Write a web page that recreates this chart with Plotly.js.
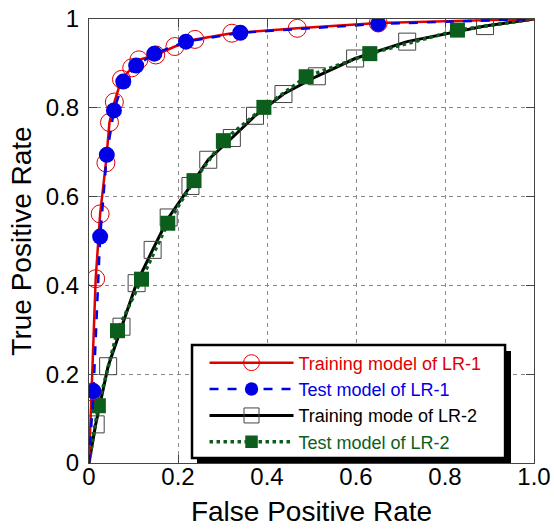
<!DOCTYPE html>
<html>
<head>
<meta charset="utf-8">
<script src="https://cdn.plot.ly/plotly-3.0.1.min.js"></script>
<style>html,body{margin:0;padding:0;background:#fff;}#chart{width:554px;height:532px;}</style>
</head>
<body>
<div id="chart"></div>
<script>
// ---- data ----
var seriesNames = ['Training model of LR-1', 'Test model of LR-1', 'Training mode of LR-2', 'Test model of LR-2'];

var lr1TrainFPR = [0, 0.006, 0.015, 0.025, 0.038, 0.046, 0.057, 0.073, 0.096, 0.112, 0.150, 0.193, 0.238, 0.321, 0.468, 0.650, 1];
var lr1TrainTPR = [0, 0.160, 0.415, 0.561, 0.676, 0.767, 0.813, 0.864, 0.890, 0.908, 0.919, 0.938, 0.954, 0.968, 0.979, 0.991, 1];

var lr1TestFPR = [0, 0.010, 0.025, 0.040, 0.056, 0.077, 0.106, 0.147, 0.218, 0.340, 0.650, 1];
var lr1TestTPR = [0, 0.162, 0.510, 0.694, 0.794, 0.859, 0.895, 0.922, 0.949, 0.969, 0.989, 1];

var lr2TrainFPR = [0, 0.015, 0.043, 0.073, 0.107, 0.143, 0.179, 0.228, 0.268, 0.321, 0.373, 0.437, 0.512, 0.598, 0.715, 0.890, 1];
var lr2TrainTPR = [0, 0.087, 0.218, 0.307, 0.405, 0.480, 0.553, 0.624, 0.683, 0.732, 0.782, 0.831, 0.871, 0.911, 0.949, 0.984, 1];

var lr2TestFPR = [0, 0.021, 0.064, 0.118, 0.177, 0.236, 0.302, 0.393, 0.488, 0.631, 0.828, 1];
var lr2TestTPR = [0, 0.129, 0.298, 0.414, 0.540, 0.636, 0.726, 0.801, 0.870, 0.922, 0.975, 1];

var tickVals = [0, 0.2, 0.4, 0.6, 0.8, 1];
var xTickText = ['0', '0.2', '0.4', '0.6', '0.8', '1.0'];
var yTickText = ['0', '0.2', '0.4', '0.6', '0.8', '1'];

// ---- styling ----
var RED = '#e00000', BLUE = '#0000e6', BLACK = '#000000', GREEN = '#0b5e1c';
var FONT = '"Liberation Sans", Arial, sans-serif';

// no marker at the (0,0) and (1,1) curve end points
function endSizes(n, s) {
  var a = [];
  for (var i = 0; i < n; i++) a.push((i === 0 || i === n - 1) ? 0 : s);
  return a;
}
function label(name, color) {
  return '<span style="color:' + color + '">' + name + '</span>';
}

var traces = [
  {
    x: lr2TrainFPR, y: lr2TrainTPR, mode: 'lines+markers', type: 'scatter',
    name: label(seriesNames[2], BLACK), legendrank: 3,
    line: {color: BLACK, width: 3},
    marker: {symbol: 'square-open', size: endSizes(lr2TrainFPR.length, 17), opacity: 1, color: '#444', line: {width: 1, color: '#444'}}
  },
  {
    x: lr2TestFPR, y: lr2TestTPR, mode: 'lines+markers', type: 'scatter',
    name: label(seriesNames[3], GREEN), legendrank: 4,
    line: {color: GREEN, width: 3.5, dash: 'dot'},
    marker: {symbol: 'square', size: endSizes(lr2TestFPR.length, 15), opacity: 1, color: GREEN, line: {width: 0}}
  },
  {
    x: lr1TrainFPR, y: lr1TrainTPR, mode: 'lines+markers', type: 'scatter',
    name: label(seriesNames[0], RED), legendrank: 1,
    line: {color: RED, width: 2.5},
    marker: {symbol: 'circle-open', size: endSizes(lr1TrainFPR.length, 18), opacity: 1, color: RED, line: {width: 1, color: RED}}
  },
  {
    x: lr1TestFPR, y: lr1TestTPR, mode: 'lines+markers', type: 'scatter',
    name: label(seriesNames[1], BLUE), legendrank: 2,
    line: {color: BLUE, width: 2.5, dash: 'dash'},
    marker: {symbol: 'circle', size: endSizes(lr1TestFPR.length, 16), opacity: 1, color: BLUE, line: {width: 0}}
  }
];

var axisCommon = {
  range: [0, 1], tickmode: 'array', tickvals: tickVals,
  showgrid: true, gridcolor: '#8a8a8a', gridwidth: 1, griddash: '4px,4px',
  zeroline: false, showline: true, linecolor: '#444', linewidth: 1, mirror: 'ticks',
  ticks: 'inside', ticklen: 8, tickcolor: '#444', tickwidth: 1,
  tickfont: {family: FONT, size: 24, color: '#000'}
};

var layout = {
  width: 554, height: 532,
  margin: {l: 89, r: 20, t: 19, b: 69, pad: 0},
  paper_bgcolor: '#fff', plot_bgcolor: '#fff',
  font: {family: FONT, color: '#000'},
  showlegend: true,
  xaxis: Object.assign({}, axisCommon, {
    ticktext: xTickText, ticklabelstandoff: -8,
    title: {text: 'False Positive Rate', font: {family: FONT, size: 28, color: '#000'}, standoff: 12}
  }),
  yaxis: Object.assign({}, axisCommon, {
    ticktext: yTickText, ticklabelstandoff: 4,
    title: {text: 'True Positive Rate', font: {family: FONT, size: 28, color: '#000'}, standoff: 6}
  }),
  legend: {
    x: 0.2596, y: 0.1364, xanchor: 'left', yanchor: 'middle',
    bgcolor: 'rgba(0,0,0,0)', borderwidth: 0,
    font: {family: FONT, size: 18, color: '#000'},
    itemwidth: 84, tracegroupgap: 0
  },
  shapes: [
    {type: 'rect', xref: 'paper', yref: 'paper', x0: 0.2427, x1: 0.9483, y0: 0.0, y1: 0.2525,
     fillcolor: '#000', line: {width: 0}, layer: 'above'},
    {type: 'rect', xref: 'paper', yref: 'paper', x0: 0.2315, x1: 0.935, y0: 0.0113, y1: 0.266,
     fillcolor: '#fff', line: {width: 2.5, color: '#000'}, layer: 'above'}
  ]
};

Plotly.newPlot('chart', traces, layout, {displayModeBar: false, staticPlot: true});
</script>
</body>
</html>
